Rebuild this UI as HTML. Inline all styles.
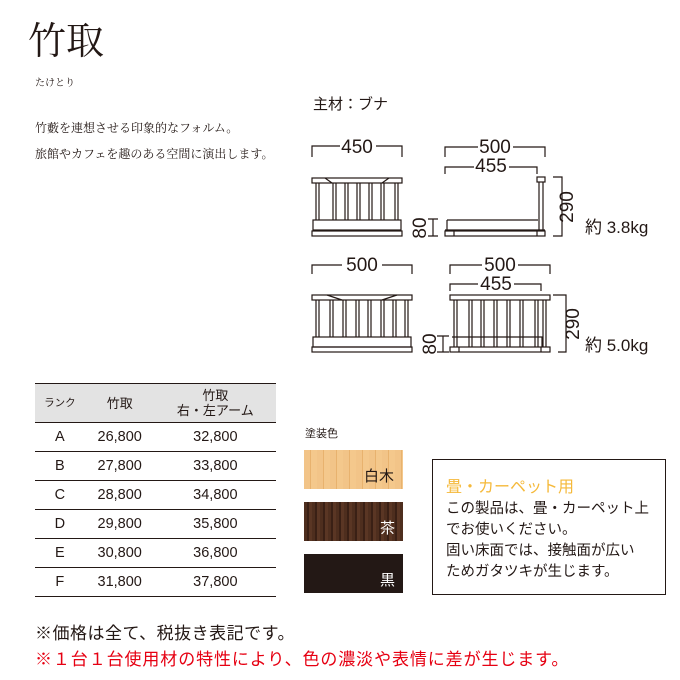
<!DOCTYPE html>
<html><head><meta charset="utf-8"><style>
body{margin:0;background:#fff;}
#p{position:relative;width:680px;height:680px;overflow:hidden;font-family:"Liberation Sans","Noto Sans CJK JP",sans-serif;color:#231815;}
.a{position:absolute;white-space:nowrap;}
.serif{font-family:"Liberation Serif","Noto Serif CJK SC",serif;}
table{position:absolute;left:35px;top:383px;width:241px;border-collapse:collapse;font-size:14.5px;}
td{height:28px;border-bottom:1px solid #231815;text-align:center;padding:0;}
tr.h td{background:#e3e3e3;height:38px;font-size:13px;line-height:15px;border-top:1.5px solid #231815;}
</style></head><body><div id="p">
<div class="a serif" style="left:28px;top:20px;font-size:38px;line-height:44px;">竹取</div>
<div class="a serif" style="left:35px;top:74px;font-size:10px;">たけとり</div>
<div class="a serif" style="left:35px;top:119px;font-size:12px;">竹藪を連想させる印象的なフォルム。</div>
<div class="a serif" style="left:35px;top:145px;font-size:12px;">旅館やカフェを趣のある空間に演出します。</div>
<div class="a" style="left:313px;top:93px;font-size:15px;">主材：ブナ</div>

<svg class="a" style="left:0;top:0" width="680" height="380" stroke="#231815" fill="none" stroke-width="1.2" font-family="Liberation Sans Narrow,Liberation Sans,sans-serif">
<g fill="#231815" stroke="none" font-size="19">
<text x="357" y="153" text-anchor="middle">450</text>
<text x="495" y="153" text-anchor="middle">500</text>
<text x="491" y="172" text-anchor="middle">455</text>
<text x="362" y="271" text-anchor="middle">500</text>
<text x="500" y="271" text-anchor="middle">500</text>
<text x="496" y="290" text-anchor="middle">455</text>
<text x="585" y="233" font-size="17" font-family="Liberation Sans,Noto Sans CJK JP,sans-serif">約 3.8kg</text>
<text x="585" y="351" font-size="17" font-family="Liberation Sans,Noto Sans CJK JP,sans-serif">約 5.0kg</text>
<text transform="translate(573,207) rotate(-90)" text-anchor="middle">290</text>
<text transform="translate(579,324) rotate(-90)" text-anchor="middle">290</text>
<text transform="translate(426,228) rotate(-90)" text-anchor="middle">80</text>
<text transform="translate(436,344) rotate(-90)" text-anchor="middle">80</text>
</g>
<path d="M312 157V146H340M376 146H402V157"/>
<path d="M445 157V147H478M513 147H545V157M445 174V167H474M509 167H537V174"/>
<path d="M312 274V265H342M382 265H412V274"/>
<path d="M450 274V265H482M518 265H550V274M450 291V284H478M514 284H541V291"/>
<path d="M553 177H562V236H553M553 295H566V352H558"/>
<path d="M428 219H438M433 219V236M428 236H438M437 336H449M443 336V352M437 352H449"/>
<rect x="312" y="178" width="90" height="5"/>
<path d="M325 178L332 183M389 178L382 183"/>
<path d="M316 183V220M319 183V220M333 183V220M336 183V220M345 183V220M348 183V220M357 183V220M360 183V220M369 183V220M372 183V220M381 183V220M384 183V220M395 183V220M398 183V220"/>
<rect x="313" y="220" width="88" height="10"/>
<rect x="312" y="231" width="90" height="5"/>
<rect x="537" y="177" width="8" height="5"/>
<path d="M539 182V231M543 182V231"/>
<path d="M447 220H538M447 220V230M445 230H545"/>
<rect x="445" y="231" width="100" height="5"/><path d="M454 231V236M537 231V236"/>
<rect x="312" y="295" width="100" height="5"/>
<path d="M327 295L342 300M397 295L382 300"/>
<path d="M316 300V337M319 300V337M330 300V337M333 300V337M343 300V337M346 300V337M356 300V337M359 300V337M368 300V337M371 300V337M381 300V337M384 300V337M393 300V337M396 300V337M405 300V337M408 300V337"/>
<rect x="313" y="337" width="98" height="10"/>
<rect x="312" y="347" width="100" height="5"/>
<rect x="450" y="295" width="100" height="5"/>
<path d="M454 300V347M457 300V347M469 300V347M472 300V347M481 300V347M484 300V347M494 300V347M497 300V347M507 300V347M510 300V347M520 300V347M523 300V347M535 300V347M538 300V347M543 300V347M546 300V347"/>
<path d="M452 337H542V347"/>
<rect x="450" y="347" width="100" height="5"/><path d="M459 347V352M541 347V352"/>
</svg>

<table>
<tr class="h"><td style="font-size:10.5px">ランク</td><td>竹取</td><td>竹取<br>右・左アーム</td></tr>
<tr><td>A</td><td>26,800</td><td>32,800</td></tr>
<tr><td>B</td><td>27,800</td><td>33,800</td></tr>
<tr><td>C</td><td>28,800</td><td>34,800</td></tr>
<tr><td>D</td><td>29,800</td><td>35,800</td></tr>
<tr><td>E</td><td>30,800</td><td>36,800</td></tr>
<tr><td>F</td><td>31,800</td><td>37,800</td></tr>
</table>

<div class="a" style="left:305px;top:425px;font-size:11px;">塗装色</div>
<div class="a" style="left:304px;top:450px;width:99px;height:39px;background:repeating-linear-gradient(90deg,#f2c488 0 6px,#e8b26e 6px 7px,#f4c88c 7px 13px);"></div>
<div class="a" style="left:364px;top:465px;font-size:15px;">白木</div>
<div class="a" style="left:304px;top:502px;width:99px;height:39px;background:repeating-linear-gradient(90deg,#4e2e1e 0 3px,#3a2015 3px 5px,#5a3624 5px 8px);"></div>
<div class="a" style="left:380px;top:517px;font-size:15px;color:#fff;">茶</div>
<div class="a" style="left:304px;top:554px;width:99px;height:39px;background:#231815;"></div>
<div class="a" style="left:380px;top:569px;font-size:15px;color:#fff;">黒</div>

<div class="a" style="left:432px;top:459px;width:232px;height:134px;border:1.5px solid #231815;"></div>
<div class="a" style="left:446px;top:473px;font-size:16px;color:#f5b93a;">畳・カーペット用</div>
<div class="a" style="left:446px;top:499px;font-size:14.5px;line-height:21px;">この製品は、畳・カーペット上<br>でお使いください。<br>固い床面では、接触面が広い<br>ためガタツキが生じます。</div>

<div class="a" style="left:35px;top:619px;font-size:17px;letter-spacing:0.5px;">※価格は全て、税抜き表記です。</div>
<div class="a" style="left:35px;top:645px;font-size:17px;letter-spacing:0.9px;color:#e60012;">※１台１台使用材の特性により、色の濃淡や表情に差が生じます。</div>
</div></body></html>
